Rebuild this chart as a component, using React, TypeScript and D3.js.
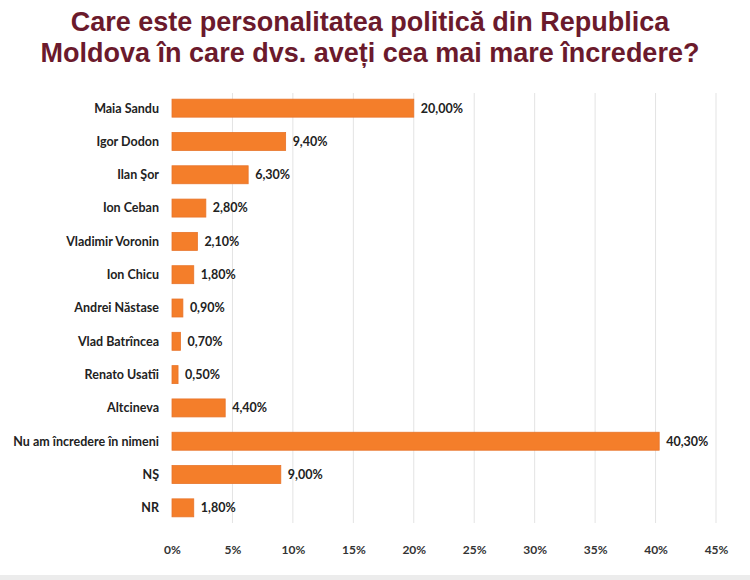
import { useRef, useEffect } from "react";
import * as d3 from "d3";

const categories = [
  "Maia Sandu",
  "Igor Dodon",
  "Ilan Şor",
  "Ion Ceban",
  "Vladimir Voronin",
  "Ion Chicu",
  "Andrei Năstase",
  "Vlad Batrîncea",
  "Renato Usatîi",
  "Altcineva",
  "Nu am încredere în nimeni",
  "NŞ",
  "NR",
];
const values = [20.0, 9.4, 6.3, 2.8, 2.1, 1.8, 0.9, 0.7, 0.5, 4.4, 40.3, 9.0, 1.8];
const xTicks = [0, 5, 10, 15, 20, 25, 30, 35, 40, 45];
const titleLines = [
  "Care este personalitatea politică din Republica",
  "Moldova în care dvs. aveți cea mai mare încredere?",
];

const W = 750;
const H = 580;
const BAR = "#f47e2a";
const LABEL_FONT = "Lato, 'Open Sans', sans-serif";

export default function App() {
  const svgRef = useRef<SVGSVGElement>(null);

  useEffect(() => {
    if (!svgRef.current) return;
    const svg = d3.select(svgRef.current);
    svg.selectAll("*").remove();

    svg.append("rect").attr("width", W).attr("height", H).attr("fill", "#fff");
    svg.append("rect").attr("y", 575).attr("width", W).attr("height", 5).attr("fill", "#ececec");

    // Title
    svg
      .append("g")
      .selectAll("text")
      .data(titleLines)
      .join("text")
      .attr("x", 370)
      .attr("y", (_, i) => 31 + i * 31)
      .attr("text-anchor", "middle")
      .attr("font-family", "'Liberation Sans', Arial, sans-serif")
      .attr("font-weight", "bold")
      .attr("font-size", 27)
      .attr("fill", "#6b1a2c")
      .text((d) => d);

    const x = d3.scaleLinear().domain([0, 45]).range([172, 716]);
    const y = d3
      .scaleBand<string>()
      .domain(categories)
      .range([91.5, 524.5])
      .paddingInner(0.46)
      .paddingOuter(0.23);

    // Gridlines
    svg
      .append("g")
      .selectAll("line")
      .data(xTicks.slice(1))
      .join("line")
      .attr("x1", (d) => x(d))
      .attr("x2", (d) => x(d))
      .attr("y1", 93)
      .attr("y2", 523)
      .attr("stroke", "#e3e3e3")
      .attr("stroke-width", 1);

    // X axis labels
    const axis = svg
      .append("g")
      .attr("transform", "translate(0,523)")
      .call(
        d3
          .axisBottom(x)
          .tickValues(xTicks)
          .tickSize(0)
          .tickPadding(22)
          .tickFormat((d) => `${d}%`)
      );
    axis.select(".domain").remove();
    axis
      .selectAll(".tick text")
      .attr("font-family", LABEL_FONT)
      .attr("font-weight", "bold")
      .attr("font-size", 12)
      .attr("fill", "#333");

    // Bars
    svg
      .append("g")
      .selectAll("rect")
      .data(values)
      .join("rect")
      .attr("x", x(0))
      .attr("y", (_, i) => y(categories[i])!)
      .attr("width", (d) => x(d) - x(0))
      .attr("height", y.bandwidth())
      .attr("fill", BAR)
      .attr("stroke", "#e8742a")
      .attr("stroke-width", 0.8);

    // Category labels
    svg
      .append("g")
      .selectAll("text")
      .data(categories)
      .join("text")
      .attr("x", 159)
      .attr("y", (d) => y(d)! + y.bandwidth() / 2)
      .attr("dy", "0.35em")
      .attr("text-anchor", "end")
      .attr("font-family", LABEL_FONT)
      .attr("font-weight", "bold")
      .attr("font-size", 12.5)
      .attr("fill", "#222")
      .text((d) => d);

    // Value labels
    svg
      .append("g")
      .selectAll("text")
      .data(values)
      .join("text")
      .attr("x", (d) => x(d) + 7)
      .attr("y", (_, i) => y(categories[i])! + y.bandwidth() / 2)
      .attr("dy", "0.35em")
      .attr("font-family", LABEL_FONT)
      .attr("font-weight", "bold")
      .attr("font-size", 12.5)
      .attr("fill", "#222")
      .text((d) => `${d.toFixed(2).replace(".", ",")}%`);
  }, []);

  return (
    <svg
      ref={svgRef}
      width={W}
      height={H}
      style={{ position: "absolute", left: 0, top: 0, display: "block" }}
    />
  );
}
